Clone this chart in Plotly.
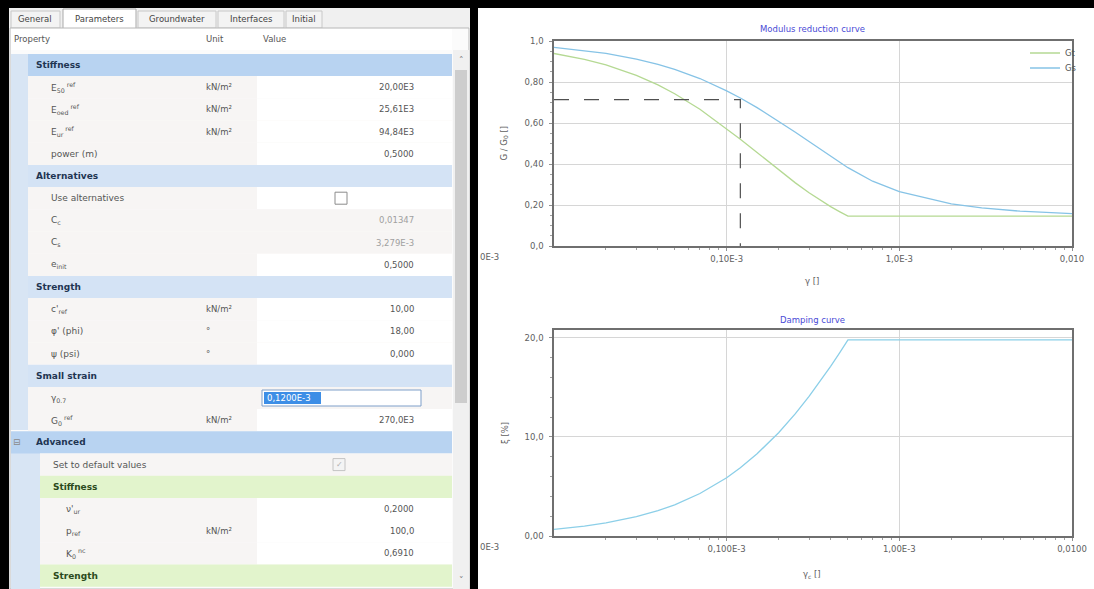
import plotly.graph_objects as go

# ---------------- chart data ----------------
gamma = [1e-5, 1.5e-5, 2e-5, 3e-5, 4e-5, 5e-5, 7e-5, 1e-4, 1.2e-4, 1.5e-4, 2e-4, 2.5e-4,
         3e-4, 3.5e-4, 4e-4, 4.5e-4, 5.04e-4, 7e-4, 1e-3, 2e-3, 3e-3, 5e-3, 7e-3, 1e-2]
G_t = [0.939, 0.910, 0.884, 0.832, 0.786, 0.743, 0.667, 0.573, 0.521, 0.456, 0.371, 0.308,
       0.260, 0.222, 0.192, 0.168, 0.146, 0.146, 0.146, 0.146, 0.146, 0.146, 0.146, 0.146]
G_s = [0.969, 0.954, 0.940, 0.912, 0.886, 0.862, 0.817, 0.757, 0.722, 0.675, 0.609, 0.555,
       0.510, 0.471, 0.438, 0.409, 0.382, 0.316, 0.265, 0.206, 0.186, 0.170, 0.163, 0.158]
damping = [0.67, 1.00, 1.32, 1.95, 2.56, 3.15, 4.29, 5.88, 6.89, 8.30, 10.43, 12.35,
           14.09, 15.68, 17.13, 18.47, 19.80, 19.80, 19.80, 19.80, 19.80, 19.80, 19.80, 19.80]
gamma_07 = 1.2e-4
G_ratio_07 = 0.714

x_tickvals = [1e-4, 1e-3, 1e-2]
x1_ticktext = ["0,10E-3", "1,0E-3", "0,010"]
x2_ticktext = ["0,100E-3", "1,00E-3", "0,0100"]
x_first_label = "0E-3"
y1_tickvals = [0, 0.2, 0.4, 0.6, 0.8, 1.0]
y1_ticktext = ["0,0", "0,20", "0,40", "0,60", "0,80", "1,0"]
y2_tickvals = [0, 10, 20]
y2_ticktext = ["0,00", "10,0", "20,0"]

# ---------------- property table data ----------------
tabs = ["General", "Parameters", "Groundwater", "Interfaces", "Initial"]
row_kind = ["cat_sel", "p", "p", "p", "p", "cat", "chk", "pg", "pg", "p", "cat", "p", "p", "p",
            "cat", "box", "p", "adv", "chk2", "sub", "p2", "p2", "p2", "sub"]
row_label = ["Stiffness", "E<sub>50</sub><sup> ref</sup>", "E<sub>oed</sub><sup> ref</sup>",
             "E<sub>ur</sub><sup> ref</sup>", "power (m)", "Alternatives", "Use alternatives",
             "C<sub>c</sub>", "C<sub>s</sub>", "e<sub>init</sub>", "Strength", "c'<sub>ref</sub>",
             "φ' (phi)", "ψ (psi)", "Small strain", "γ<sub>0.7</sub>", "G<sub>0</sub><sup> ref</sup>",
             "Advanced", "Set to default values", "Stiffness", "ν'<sub>ur</sub>", "p<sub>ref</sub>",
             "K<sub>0</sub><sup> nc</sup>", "Strength"]
row_unit = ["", "kN/m²", "kN/m²", "kN/m²", "", "", "", "", "", "", "", "kN/m²", "°", "°",
            "", "", "kN/m²", "", "", "", "", "kN/m²", "", ""]
row_value = ["", "20,00E3", "25,61E3", "94,84E3", "0,5000", "", "", "0,01347", "3,279E-3",
             "0,5000", "", "10,00", "18,00", "0,000", "", "0,1200E-3", "270,0E3", "", "", "",
             "0,2000", "100,0", "0,6910", ""]

# ---------------- helpers ----------------
W, H = 1094, 589
FONT = "DejaVu Sans"


def px(x):
    return x / W


def py(y):
    return 1 - y / H


shapes = []
annotations = []


def rect(x0, y0, x1, y1, fill, line=None, lw=1, layer="below"):
    shapes.append(dict(type="rect", xref="paper", yref="paper",
                       x0=px(x0), x1=px(x1), y0=py(y1), y1=py(y0),
                       fillcolor=fill, layer=layer,
                       line=dict(color=line if line else fill, width=lw if line else 0)))


def text(x, y, s, size=9, color="#555555", anchor="left", family=FONT, angle=0):
    annotations.append(dict(xref="paper", yref="paper", x=px(x), y=py(y), text=s,
                            showarrow=False, xanchor=anchor, yanchor="middle",
                            textangle=angle, borderpad=0,
                            font=dict(size=size, color=color, family=family)))


# ---------------- window frame ----------------
rect(0, 0, W, 8, "#000000")
rect(0, 0, 9, H, "#000000")
rect(470, 0, 478, H, "#000000")

# tab strip
rect(9, 8, 470, 28, "#f0f0f0")
tab_x = [[11, 60], [63, 136], [138, 216], [218, 284], [286, 322]]
for (a, b), t in zip(tab_x, tabs):
    if t == "Parameters":
        rect(a, 9, b, 29, "#ffffff", line="#a9a9a9", lw=1)
    else:
        rect(a, 11, b, 28, "#f3f3f3", line="#c8c8c8", lw=1)
    text((a + b) / 2, 19, t, size=8.5, color="#444444", anchor="center")

# panel body
rect(10, 28, 469, H, "#fbfbfb", line="#b9b9b9", lw=1)
rect(11, 29, 452, 50, "#ffffff")
text(13, 39, "Property", size=8.5, color="#555555")
text(205, 39, "Unit", size=8.5, color="#555555")
text(262, 39, "Value", size=8.5, color="#555555")

ROW0, RH = 65, 22.2
rect(11, 54, 28, 430, "#d8e5f4")
rect(11, 452, 40, H, "#d8e5f4")

for i, kind in enumerate(row_kind):
    yc = ROW0 + RH * i
    y0, y1 = yc - RH / 2, yc + RH / 2
    lab, unit, val = row_label[i], row_unit[i], row_value[i]
    if kind in ("cat", "cat_sel"):
        rect(28, y0, 452, y1, "#b8d3f1" if kind == "cat_sel" else "#d4e3f5")
        text(35, yc, "<b>" + lab + "</b>", size=9, color="#1f3552")
    elif kind == "adv":
        rect(11, y0, 452, y1, "#b8d3f1")
        text(17, yc, "⊟", size=9, color="#8a8a8a", anchor="center")
        text(35, yc, "<b>" + lab + "</b>", size=9, color="#1f3552")
    elif kind == "sub":
        rect(40, y0, 452, y1, "#e2f4cc")
        text(52, yc, "<b>" + lab + "</b>", size=9, color="#2c4a1c")
    else:
        x_lab = 65 if kind == "p2" else (52 if kind == "chk2" else 50)
        lx0 = 40 if kind in ("p2", "chk2") else 28
        rect(lx0, y0, 452, y1, "#f7f5f4")
        if kind in ("p", "p2", "chk"):
            rect(257, y0, 452, y1, "#ffffff")
        text(x_lab, yc, lab, size=9, color="#555555")
        if unit:
            text(205, yc, unit, size=8.5, color="#555555")
        if kind == "box":
            rect(262, yc - 8, 421, yc + 8, "#ffffff", line="#7e9fc9", lw=1)
            rect(264, yc - 6, 321, yc + 6, "#3d8ee6")
            text(266, yc, val, size=8.5, color="#ffffff")
        elif kind == "chk":
            rect(335, yc - 6, 347, yc + 6, "#ffffff", line="#8c8c8c", lw=1)
        elif kind == "chk2":
            rect(333, yc - 6, 345, yc + 6, "#f4f4f4", line="#c4c4c4", lw=1)
            text(339, yc, "✓", size=8, color="#b0b0b0", anchor="center")
        elif val:
            text(415, yc, val, size=8.5, color="#a0a0a0" if kind == "pg" else "#555555",
                 anchor="right")

# scrollbar
rect(453, 50, 469, H, "#f0f0f0")
rect(455, 70, 467, 403, "#cdcdcd")
text(461, 60, "˄", size=9, color="#777777", anchor="center")
text(461, 580, "˅", size=9, color="#777777", anchor="center")

# ---------------- charts ----------------
PX0, PX1 = 554, 1072
C1T, C1B = 41, 246
C2T, C2B = 330, 536
GRID = "#d6d6d6"
AXC = "#6f6f6f"
minor_x = [k * 10 ** e for e in (-5, -4, -3) for k in range(2, 10)]
tickfont = dict(family=FONT, size=8.5, color="#606060")

fig = go.Figure()
fig.add_trace(go.Scatter(x=gamma, y=G_t, mode="lines", name="Gt", legend="legend",
                         line=dict(color="#b5d993", width=1.3), xaxis="x", yaxis="y"))
fig.add_trace(go.Scatter(x=gamma, y=G_s, mode="lines", name="Gs", legend="legend2",
                         line=dict(color="#86c3e6", width=1.3), xaxis="x", yaxis="y"))
fig.add_trace(go.Scatter(x=[gamma[0], gamma_07, gamma_07], y=[G_ratio_07, G_ratio_07, 0],
                         mode="lines", showlegend=False,
                         line=dict(color="#505050", width=1.2, dash="longdash"),
                         xaxis="x", yaxis="y"))
fig.add_trace(go.Scatter(x=gamma, y=damping, mode="lines", name="damping", showlegend=False,
                         line=dict(color="#8ccfe8", width=1.3), xaxis="x2", yaxis="y2"))

common_x = dict(type="log", range=[-5, -2], showgrid=True, gridcolor=GRID, gridwidth=1,
                showline=True, linecolor=AXC, linewidth=1.5, mirror=True,
                ticks="outside", ticklen=3, tickcolor="#909090", tickfont=tickfont,
                tickmode="array", tickvals=x_tickvals, ticklabelstandoff=1,
                minor=dict(tickmode="array", tickvals=minor_x, ticks="outside",
                           ticklen=2, tickcolor="#a0a0a0", showgrid=False),
                zeroline=False, fixedrange=True, automargin=False,
                domain=[px(PX0), px(PX1)])
common_y = dict(showgrid=True, gridcolor=GRID, gridwidth=1, showline=True, linecolor=AXC,
                linewidth=1.5, mirror=True, ticks="outside", ticklen=3, tickcolor="#909090",
                tickfont=tickfont, tickmode="array", ticklabelstandoff=4, zeroline=False,
                fixedrange=True, automargin=False)
legend_style = dict(xanchor="left", yanchor="middle", bgcolor="rgba(0,0,0,0)",
                    borderwidth=0, itemwidth=30,
                    font=dict(family=FONT, size=8.5, color="#555555"))

fig.update_layout(
    width=W, height=H, autosize=False,
    margin=dict(l=0, r=0, t=0, b=0, pad=0, autoexpand=False),
    paper_bgcolor="#ffffff", plot_bgcolor="#ffffff",
    xaxis=dict(common_x, anchor="y", ticktext=x1_ticktext),
    yaxis=dict(common_y, anchor="x", range=[0, 1], tickvals=y1_tickvals,
               ticktext=y1_ticktext, domain=[py(C1B), py(C1T)],
               minor=dict(dtick=0.05, ticks="outside", ticklen=2, tickcolor="#a0a0a0")),
    xaxis2=dict(common_x, anchor="y2", ticktext=x2_ticktext),
    yaxis2=dict(common_y, anchor="x2", range=[0, 20.8], tickvals=y2_tickvals,
                ticktext=y2_ticktext, domain=[py(C2B), py(C2T)],
                minor=dict(dtick=2, ticks="outside", ticklen=2, tickcolor="#a0a0a0")),
    legend=dict(legend_style, x=px(1025), y=py(53)),
    legend2=dict(legend_style, x=px(1025), y=py(68)),
    showlegend=True,
)

# chart titles and axis titles
text(812, 29, "Modulus reduction curve", size=8.5, color="#4a4ad6", anchor="center")
text(812, 320, "Damping curve", size=8.5, color="#4a4ad6", anchor="center")
text(504, (C1T + C1B) / 2, "G / G<sub>0</sub> []", size=8.5, color="#606060",
     anchor="center", angle=-90)
text(505, (C2T + C2B) / 2, "ξ [%]", size=8.5, color="#606060", anchor="center", angle=-90)
text(812, 281, "γ []", size=8.5, color="#606060", anchor="center")
text(812, 574, "γ<sub>c</sub> []", size=8.5, color="#606060", anchor="center")
text(489, C1B + 11, x_first_label, size=8.5, color="#606060", anchor="center")
text(489, C2B + 11, x_first_label, size=8.5, color="#606060", anchor="center")

fig.update_layout(shapes=shapes, annotations=annotations)

post = ("var de=document.documentElement, b=document.body;"
        "de.style.margin='0';de.style.padding='0';de.style.overflow='hidden';"
        "b.style.margin='0';b.style.padding='0';b.style.overflow='hidden';"
        "var d=document.getElementById('{plot_id}');"
        "d.style.position='absolute';d.style.left='0px';d.style.top='0px';")
fig.write_html("out.html", include_plotlyjs=True, post_script=post,
               config={"displayModeBar": False})
